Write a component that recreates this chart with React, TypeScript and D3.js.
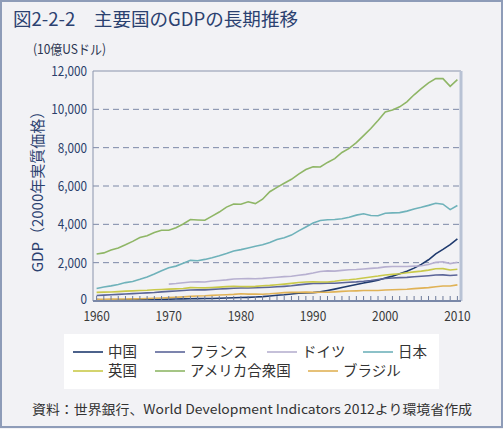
import React from 'react';
import * as d3 from 'd3';

const years = d3.range(1960, 2011);

const china = [70, 50, 48, 53, 62, 72, 80, 75, 71, 83, 99, 106, 110, 119, 122, 132, 130, 140, 156, 168, 181, 190, 207, 229, 264, 300, 326, 364, 405, 421, 437, 477, 545, 621, 702, 779, 857, 937, 1010, 1087, 1198, 1298, 1416, 1558, 1715, 1910, 2152, 2457, 2693, 2941, 3243];
const france = [290, 305, 325, 345, 365, 385, 405, 425, 445, 475, 500, 520, 545, 570, 585, 580, 605, 625, 645, 665, 675, 680, 695, 705, 720, 740, 765, 795, 840, 880, 910, 920, 935, 930, 955, 980, 1000, 1030, 1070, 1120, 1170, 1200, 1220, 1235, 1265, 1290, 1320, 1355, 1365, 1330, 1360];
const germany: (number | null)[] = [null, null, null, null, null, null, null, null, null, null, 880, 910, 950, 990, 1000, 990, 1040, 1070, 1100, 1150, 1160, 1170, 1160, 1180, 1210, 1240, 1270, 1290, 1340, 1390, 1460, 1540, 1570, 1560, 1600, 1630, 1640, 1670, 1700, 1730, 1780, 1800, 1800, 1800, 1820, 1840, 1900, 2020, 2050, 1950, 2020];
const japan = [650, 730, 790, 860, 960, 1020, 1130, 1250, 1410, 1580, 1740, 1820, 1970, 2120, 2100, 2170, 2260, 2360, 2480, 2610, 2680, 2770, 2860, 2930, 3050, 3210, 3300, 3440, 3660, 3860, 4070, 4200, 4240, 4250, 4290, 4370, 4480, 4550, 4460, 4450, 4580, 4600, 4610, 4690, 4800, 4890, 4990, 5100, 5050, 4770, 4980];
const uk = [450, 465, 470, 490, 515, 530, 545, 560, 585, 600, 620, 635, 655, 700, 690, 685, 705, 725, 750, 770, 760, 750, 765, 795, 815, 845, 880, 920, 965, 990, 1000, 990, 995, 1030, 1080, 1110, 1150, 1200, 1250, 1300, 1360, 1390, 1420, 1470, 1520, 1560, 1610, 1680, 1690, 1620, 1660];
const usa = [2450, 2510, 2660, 2770, 2930, 3110, 3310, 3400, 3570, 3690, 3690, 3820, 4020, 4250, 4230, 4210, 4430, 4640, 4900, 5060, 5050, 5180, 5080, 5310, 5700, 5930, 6140, 6350, 6620, 6860, 7000, 6990, 7230, 7430, 7750, 7960, 8260, 8630, 9000, 9420, 9860, 9960, 10130, 10390, 10760, 11080, 11380, 11600, 11600, 11200, 11550];
const brazil = [90, 95, 100, 105, 108, 112, 120, 130, 145, 160, 175, 195, 215, 240, 260, 270, 295, 310, 325, 345, 375, 360, 365, 355, 375, 405, 435, 450, 450, 465, 450, 455, 455, 475, 500, 520, 530, 545, 545, 550, 575, 585, 600, 610, 645, 670, 700, 745, 785, 780, 840];

const seriesNames = ['中国', 'フランス', 'ドイツ', '日本', '英国', 'アメリカ合衆国', 'ブラジル'];
const seriesColors = ['#1f3a6e', '#5b6598', '#b7b0d0', '#6fb2ba', '#c9c94a', '#8fb666', '#e0b256'];
const seriesData = [china, france, germany, japan, uk, usa, brazil];

const yTicks = [0, 2000, 4000, 6000, 8000, 10000, 12000];
const xTickLabels = [1960, 1970, 1980, 1990, 2000, 2010];

const W = 503, H = 429;
const left = 93, right = 461, top = 71, bottom = 301;

export default function App() {
  const x = d3.scaleLinear().domain([1959.5, 2010.5]).range([left, right]);
  const y = d3.scaleLinear().domain([0, 12000]).range([bottom, top]);
  const line = d3.line<number | null>()
    .defined((d) => d !== null)
    .x((_, i) => x(years[i]))
    .y((d) => y(d as number));

  const jp = '"Noto Sans CJK JP", "Noto Sans", sans-serif';
  const legendPos = [
    { lx: 73, ty: 352 }, { lx: 155, ty: 352 }, { lx: 267, ty: 352 }, { lx: 363, ty: 352 },
    { lx: 73, ty: 371 }, { lx: 155, ty: 371 }, { lx: 308, ty: 371 },
  ];

  return (
    <svg width={W} height={H} style={{ position: 'absolute', left: 0, top: 0 }} fontFamily={jp}>
      <rect x={0} y={0} width={W} height={H} fill="#f2f2f5" />
      <rect x={1} y={1} width={W - 2} height={H - 3} fill="none" stroke="#8e9cb8" strokeWidth={2} />
      <text x={13} y={26} fontSize={18} fill="#2b4170" textLength={285} lengthAdjust="spacingAndGlyphs">図2-2-2　主要国のGDPの長期推移</text>
      <text x={33} y={54} fontSize={13} fill="#2c3550" textLength={73} lengthAdjust="spacingAndGlyphs">(10億USドル)</text>

      {/* gridlines */}
      {yTicks.filter((t) => t > 0 && t < 12000).map((t) => (
        <line key={t} x1={left} x2={right} y1={y(t)} y2={y(t)} stroke="#7c88a6" strokeWidth={1} strokeDasharray="6 4" />
      ))}
      {/* frame */}
      <line x1={left} x2={right} y1={top} y2={top} stroke="#8a94ac" strokeWidth={1} />
      <line x1={left} x2={left} y1={top} y2={bottom} stroke="#8a94ac" strokeWidth={1} />
      <line x1={right} x2={right} y1={top} y2={bottom} stroke="#b8c2d4" strokeWidth={3} />

      {/* series */}
      {seriesData.map((s, i) => (
        <path key={i} d={line(s) || ''} fill="none" stroke={seriesColors[i]} strokeWidth={1.6} />
      ))}

      {/* x axis */}
      {years.map((yr) => (
        <line key={yr} x1={x(yr)} x2={x(yr)} y1={bottom} y2={bottom - 5} stroke="#6d7a9a" strokeWidth={1} />
      ))}
      <line x1={left} x2={right} y1={bottom} y2={bottom} stroke="#7a88a8" strokeWidth={2} />
      {xTickLabels.map((t) => (
        <text key={t} x={x(t)} y={321} fontSize={14} fill="#3a3a3a" textAnchor="middle"
          transform={`translate(${x(t)} 0) scale(0.85 1) translate(${-x(t)} 0)`}>{t}</text>
      ))}

      {/* y labels */}
      {yTicks.map((t) => (
        <text key={t} x={87} y={t === 0 ? y(t) + 3 : y(t) + 5} fontSize={14} fill="#2b3f6b" textAnchor="end"
          transform="translate(87 0) scale(0.84 1) translate(-87 0)">{d3.format(',')(t)}</text>
      ))}
      <text transform="translate(43 188) rotate(-90)" fontSize={15} fill="#2b4170" textAnchor="middle">GDP（2000年実質価格）</text>

      {/* legend */}
      <rect x={64} y={334} width={375} height={55} fill="#ffffff" />
      {seriesNames.map((n, i) => (
        <g key={n}>
          <line x1={legendPos[i].lx} x2={legendPos[i].lx + 30} y1={legendPos[i].ty} y2={legendPos[i].ty} stroke={seriesColors[i]} strokeWidth={1.6} />
          <text x={legendPos[i].lx + 35} y={legendPos[i].ty + 5} fontSize={14.5} fill="#333">{n}</text>
        </g>
      ))}

      <text x={32} y={414} fontSize={13} fill="#333" textLength={440} lengthAdjust="spacingAndGlyphs">資料：世界銀行、World Development Indicators 2012より環境省作成</text>
    </svg>
  );
}
